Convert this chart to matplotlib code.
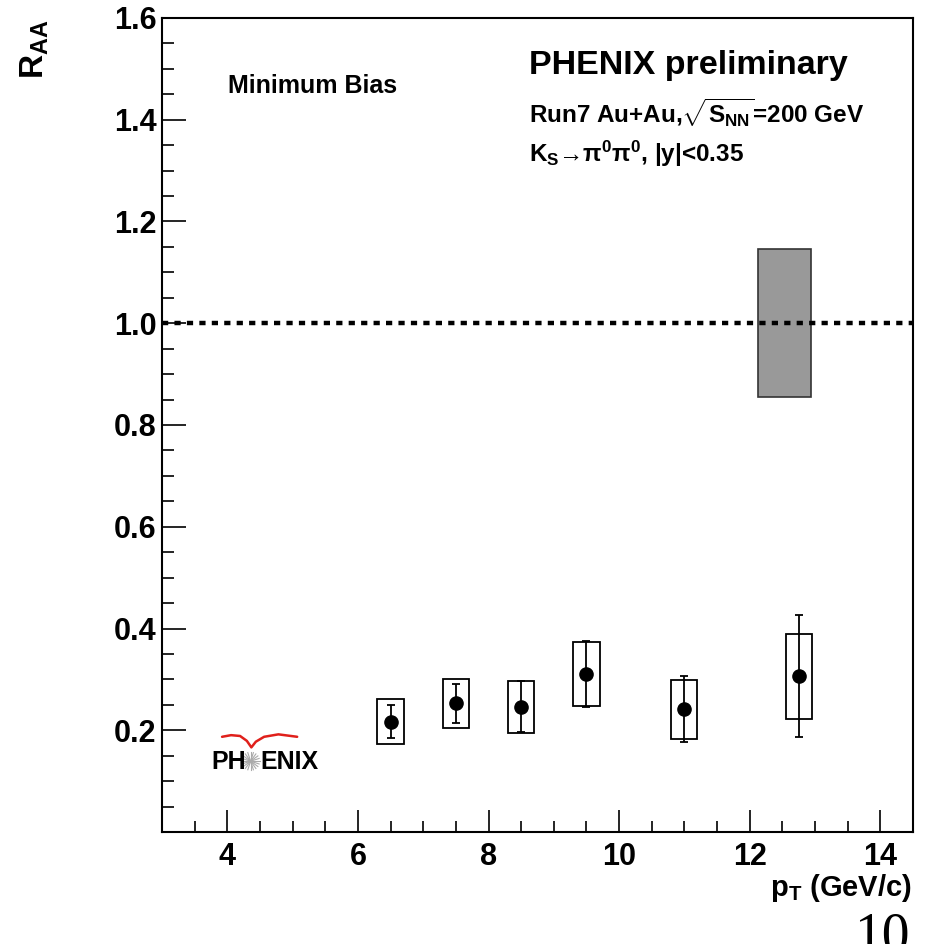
import numpy as np
import matplotlib
matplotlib.use("Agg")
import matplotlib.pyplot as plt
from matplotlib.patches import Rectangle

plt.rcParams['font.family'] = ['Liberation Sans', 'DejaVu Sans']
plt.rcParams['font.weight'] = 'bold'
plt.rcParams['mathtext.fontset'] = 'custom'
plt.rcParams['mathtext.rm'] = 'Liberation Sans:bold'
plt.rcParams['mathtext.it'] = 'Liberation Sans:bold'
plt.rcParams['mathtext.bf'] = 'Liberation Sans:bold'
plt.rcParams['mathtext.sf'] = 'Liberation Sans:bold'

# K_S -> pi0 pi0 R_AA, minimum bias
pt = [6.5, 7.5, 8.5, 9.5, 11.0, 12.75]
raa = [0.217, 0.253, 0.246, 0.311, 0.241, 0.306]
stat_err = [0.033, 0.038, 0.050, 0.065, 0.065, 0.120]
sys_err = [0.044, 0.048, 0.051, 0.063, 0.058, 0.083]
box_halfwidth = 0.2

# global normalisation uncertainty box
norm_x = [12.13, 12.94]
norm_err = 0.145

x_major = [4, 6, 8, 10, 12, 14]
y_major = [0.2, 0.4, 0.6, 0.8, 1.0, 1.2, 1.4, 1.6]

fig = plt.figure(figsize=(9.32, 9.44), dpi=100)
ax = fig.add_axes([0.1738, 0.1186, 0.8058, 0.8624])

# systematic boxes
for x, y, s in zip(pt, raa, sys_err):
    ax.add_patch(Rectangle((x - box_halfwidth, y - s), 2 * box_halfwidth, 2 * s,
                           fill=False, edgecolor='black', lw=1.3, zorder=2))

ax.errorbar(pt, raa, yerr=stat_err, fmt='o', color='black', ms=9.5,
            elinewidth=1.3, capsize=3, capthick=1.3, zorder=3)

ax.add_patch(Rectangle((norm_x[0], 1 - norm_err), norm_x[1] - norm_x[0], 2 * norm_err,
                       facecolor='#999999', edgecolor='#333333', lw=1.2, zorder=1))

ax.axhline(1.0, color='black', lw=3.2, linestyle=(0, (1.4, 1.4)), zorder=4)

ax.set_xlim(3, 14.5)
ax.set_ylim(0, 1.6)
ax.set_xticks(x_major)
ax.set_xticks(np.arange(3.5, 14.51, 0.5), minor=True)
ax.set_yticks(y_major)
ax.set_yticks(np.arange(0.05, 1.601, 0.05), minor=True)
ax.set_yticklabels(['%.1f' % v for v in y_major])
ax.tick_params(axis='both', which='both', direction='in', top=False, right=False,
               labelsize=22, width=1.2)
ax.tick_params(axis='x', which='major', length=16, pad=7)
ax.tick_params(axis='x', which='minor', length=8)
ax.tick_params(axis='y', which='major', length=17, pad=4)
ax.tick_params(axis='y', which='minor', length=8.5)
for sp in ax.spines.values():
    sp.set_linewidth(1.5)

# texts
ax.text(0.088, 0.917, "Minimum Bias", transform=ax.transAxes, fontsize=18,
        ha='left', va='center')
ax.text(0.489, 0.941, "PHENIX preliminary", transform=ax.transAxes, fontsize=24.5,
        ha='left', va='center')
ax.text(0.489, 0.884, r"Run7 Au+Au,$\sqrt{S_{NN}}$=200 GeV", transform=ax.transAxes,
        fontsize=17.5, ha='left', va='center')
ax.text(0.489, 0.833, r"K$_S$→π$^0$π$^0$, |y|<0.35", transform=ax.transAxes,
        fontsize=17.5, ha='left', va='center')

# PHENIX logo
ax.text(0.066, 0.086, "PH", transform=ax.transAxes, fontsize=18, ha='left', va='center')
ax.text(0.131, 0.086, "ENIX", transform=ax.transAxes, fontsize=18, ha='left', va='center')
cx, cy = 0.118, 0.087
for a in np.linspace(0, np.pi, 10, endpoint=False):
    dx, dy = 0.012 * np.cos(a), 0.012 * np.sin(a) * 751 / 814
    ax.plot([cx - dx, cx + dx], [cy - dy, cy + dy], color='#aaaaaa', lw=0.8,
            transform=ax.transAxes)
wing_x = [0.080, 0.092, 0.104, 0.113, 0.119, 0.125, 0.136, 0.155, 0.180]
wing_y = [0.117, 0.119, 0.118, 0.112, 0.104, 0.111, 0.117, 0.120, 0.117]
ax.plot(wing_x, wing_y, color='#e0201b', lw=1.8, transform=ax.transAxes,
        solid_capstyle='round', solid_joinstyle='round')

fig.text(0.037, 0.979, r"R$_{AA}$", rotation=90, fontsize=24, ha='center', va='top')
fig.text(0.978, 0.059, r"p$_T$ (GeV/c)", fontsize=21, ha='right', va='center')
fig.text(0.976, 0.034, "10", fontsize=40, ha='right', va='top',
         family='Liberation Serif', weight='normal')

fig.savefig("out.png", dpi=100)
